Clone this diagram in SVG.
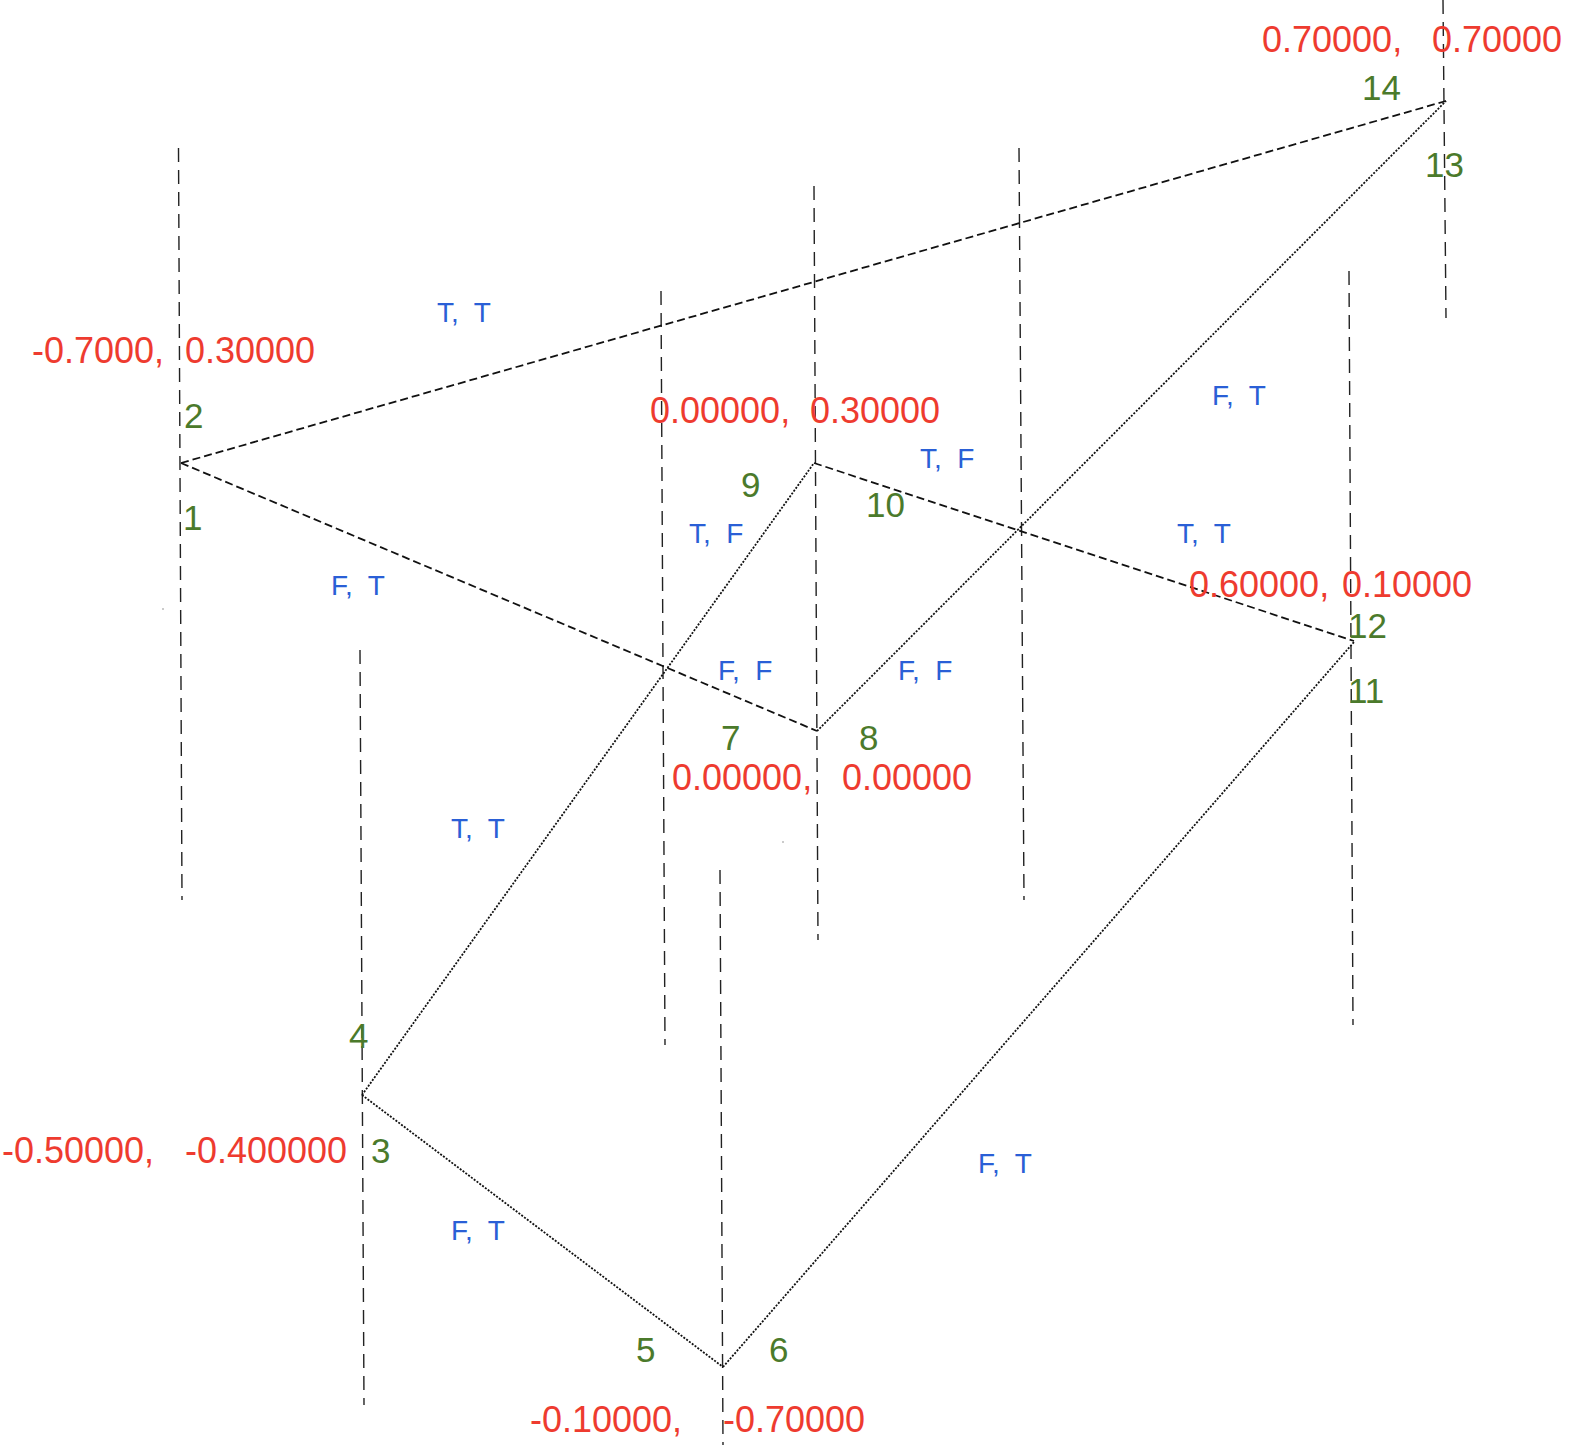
<svg xmlns="http://www.w3.org/2000/svg" width="1574" height="1445" viewBox="0 0 1574 1445">
<style>
text{font-family:"Liberation Sans",Arial,Helvetica,sans-serif;white-space:pre}
.c{fill:#ee3b2f;font-size:36px}
.n{fill:#4b7a2b;font-size:35px}
.b{fill:#2a5fd6;font-size:28px}
.v{stroke:#222;stroke-width:1.4;stroke-dasharray:14 8;fill:none}
.d{stroke:#111;stroke-width:1.8;stroke-dasharray:8 4;fill:none}
.o{stroke:#111;stroke-width:1.8;stroke-dasharray:2 1.5;fill:none}
</style>
<rect width="1574" height="1445" fill="#fff"/>
<g id="guides">
<line class="v" x1="178.5" y1="148" x2="182" y2="900"/>
<line class="v" x1="360" y1="650" x2="364" y2="1405"/>
<line class="v" x1="661" y1="291" x2="665" y2="1045"/>
<line class="v" x1="720" y1="870" x2="723" y2="1445"/>
<line class="v" x1="814" y1="186" x2="818" y2="940"/>
<line class="v" x1="1019" y1="148" x2="1024" y2="900"/>
<line class="v" x1="1349" y1="271" x2="1353" y2="1025"/>
<line class="v" x1="1443" y1="0" x2="1446" y2="318"/>
</g>
<g id="connectors">
<line class="d" x1="181" y1="463" x2="1446" y2="101"/>
<line class="d" x1="181" y1="463" x2="817" y2="731"/>
<line class="d" x1="814" y1="463" x2="1354" y2="641"/>
<line class="o" x1="362" y1="1095" x2="814" y2="463"/>
<line class="o" x1="817" y1="731" x2="1446" y2="101"/>
<line class="o" x1="362" y1="1095" x2="723" y2="1367"/>
<line class="o" x1="723" y1="1367" x2="1354" y2="642"/>
</g>
<g id="edge-labels">
<text class="b" x="437" y="322">T,  T</text>
<text class="b" x="331" y="595">F,  T</text>
<text class="b" x="689" y="543">T,  F</text>
<text class="b" x="920" y="468">T,  F</text>
<text class="b" x="1177" y="543">T,  T</text>
<text class="b" x="1212" y="405">F,  T</text>
<text class="b" x="718" y="680">F,  F</text>
<text class="b" x="898" y="680">F,  F</text>
<text class="b" x="451" y="838">T,  T</text>
<text class="b" x="451" y="1240">F,  T</text>
<text class="b" x="978" y="1173">F,  T</text>
</g>
<g id="node-1-2">
<text class="c" x="32" y="363">-0.7000,</text>
<text class="c" x="185" y="363">0.30000</text>
<text class="n" x="184" y="428">2</text>
<text class="n" x="183" y="530">1</text>
</g>
<g id="node-9-10">
<text class="c" x="650" y="423">0.00000,</text>
<text class="c" x="810" y="423">0.30000</text>
<text class="n" x="741" y="497">9</text>
<text class="n" x="866" y="517">10</text>
</g>
<g id="node-13-14">
<text class="c" x="1262" y="52">0.70000,</text>
<text class="c" x="1432" y="52">0.70000</text>
<text class="n" x="1362" y="100">14</text>
<text class="n" x="1425" y="177">13</text>
</g>
<g id="node-11-12">
<text class="c" x="1189" y="597">0.60000,</text>
<text class="c" x="1342" y="597">0.10000</text>
<text class="n" x="1348" y="638">12</text>
<text class="n" x="1348" y="703">11</text>
</g>
<g id="node-7-8">
<text class="c" x="672" y="790">0.00000,</text>
<text class="c" x="842" y="790">0.00000</text>
<text class="n" x="721" y="750">7</text>
<text class="n" x="859" y="750">8</text>
</g>
<g id="node-3-4">
<text class="c" x="2" y="1163">-0.50000,</text>
<text class="c" x="185" y="1163">-0.400000</text>
<text class="n" x="349" y="1048">4</text>
<text class="n" x="371" y="1163">3</text>
</g>
<g id="node-5-6">
<text class="c" x="530" y="1432">-0.10000,</text>
<text class="c" x="723" y="1432">-0.70000</text>
<text class="n" x="636" y="1362">5</text>
<text class="n" x="769" y="1362">6</text>
</g>
<circle cx="163" cy="609" r="0.8" fill="#888"/>
<circle cx="783" cy="842" r="0.8" fill="#888"/>
</svg>
